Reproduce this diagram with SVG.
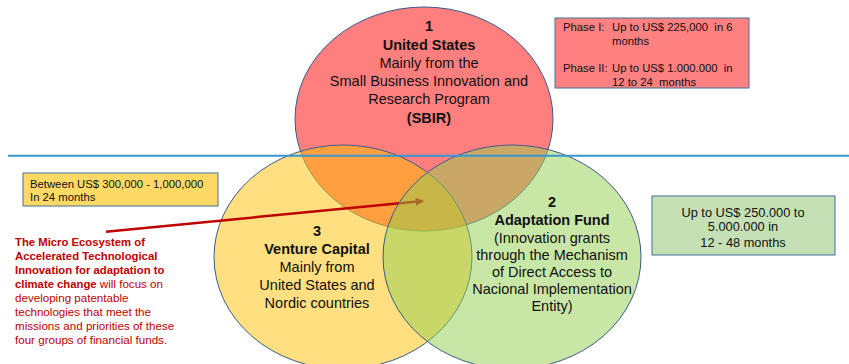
<svg xmlns="http://www.w3.org/2000/svg" width="849" height="364" viewBox="0 0 849 364">
<style>
.ell{stroke:#3a5a8c;stroke-width:1}
.t{font-family:"Liberation Sans",Arial,sans-serif;fill:#111;text-anchor:middle}
.c{font-size:14.5px}
.b{font-weight:bold}
.s{font-family:"Liberation Sans",Arial,sans-serif;font-size:11.3px;fill:#111;white-space:pre}
.box{stroke:#41719c;stroke-width:1}
.rt{font-family:"Liberation Sans",Arial,sans-serif;font-size:11.6px;fill:#c00000}
.rb{font-weight:bold;font-size:11.3px}
</style>
<defs>
<marker id="ah" viewBox="0 0 10 10" refX="9" refY="5" markerWidth="3.6" markerHeight="3.2" orient="auto" markerUnits="strokeWidth">
<path d="M0,0 L10,5 L0,10 z" fill="#c00000"/>
</marker>
</defs>
<rect width="849" height="364" fill="#ffffff"/>
<g id="node-us">
<ellipse class="ell" cx="424" cy="119" rx="129" ry="112" fill="#ff0000" fill-opacity="0.5"/>
</g>
<g id="node-vc">
<ellipse class="ell" cx="343" cy="257" rx="129" ry="112" fill="#ffc000" fill-opacity="0.5"/>
</g>
<g id="connectors">
<line x1="106" y1="231.7" x2="423" y2="201" stroke="#c00000" stroke-width="2.5" marker-end="url(#ah)"/>
</g>
<g id="node-af">
<ellipse class="ell" cx="512" cy="257" rx="129" ry="112" fill="#92d050" fill-opacity="0.5"/>
</g>
<g id="divider">
<line x1="8" y1="155.7" x2="849" y2="155.7" stroke="#3596d3" stroke-width="2"/>
</g>
<g id="label-us">
<text class="t c b" x="429" y="31">1</text>
<text class="t c b" x="429" y="50">United States</text>
<text class="t c" x="429" y="68">Mainly from the</text>
<text class="t c" x="429" y="86">Small Business Innovation and</text>
<text class="t c" x="429" y="104">Research Program</text>
<text class="t c b" x="429" y="123">(SBIR)</text>
</g>
<g id="label-vc">
<text class="t c b" x="317" y="236">3</text>
<text class="t c b" x="317" y="254">Venture Capital</text>
<text class="t c" x="317" y="272">Mainly from</text>
<text class="t c" x="317" y="290">United States and</text>
<text class="t c" x="317" y="308">Nordic countries</text>
</g>
<g id="label-af">
<text class="t c b" x="552" y="207">2</text>
<text class="t c b" x="552" y="225">Adaptation Fund</text>
<text class="t c" x="552" y="243">(Innovation grants</text>
<text class="t c" x="552" y="260">through the Mechanism</text>
<text class="t c" x="552" y="277">of Direct Access to</text>
<text class="t c" x="552" y="294">Nacional Implementation</text>
<text class="t c" x="552" y="311">Entity)</text>
</g>
<g id="box-phase">
<rect class="box" x="555" y="18" width="194" height="70" fill="#ff8080"/>
<text class="s" x="563" y="31">Phase I:</text>
<text class="s" x="612" y="31" xml:space="preserve">Up to US$ 225,000  in 6</text>
<text class="s" x="612" y="45">months</text>
<text class="s" x="563" y="72">Phase II:</text>
<text class="s" x="612" y="72" xml:space="preserve">Up to US$ 1.000.000  in</text>
<text class="s" x="612" y="86" xml:space="preserve">12 to 24  months</text>
</g>
<g id="box-vc">
<rect class="box" x="23" y="173" width="195" height="33" fill="#ffd966"/>
<text class="s" x="30" y="188">Between US$ 300,000 - 1,000,000</text>
<text class="s" x="30" y="201">In 24 months</text>
</g>
<g id="box-af">
<rect class="box" x="652" y="196" width="183" height="59" fill="#c5e0b4"/>
<text class="t" style="font-size:12.8px" x="743" y="216.5">Up to US$ 250.000 to</text>
<text class="t" style="font-size:12.8px" x="743" y="231">5.000.000 in</text>
<text class="t" style="font-size:12.8px" x="743" y="246.5">12 - 48 months</text>
</g>
<g id="note">
<text class="rt rb" x="15" y="246">The Micro Ecosystem of</text>
<text class="rt rb" x="15" y="260">Accelerated Technological</text>
<text class="rt rb" x="15" y="274">Innovation for adaptation to</text>
<text class="rt" x="15" y="288"><tspan class="rb">climate change</tspan> will focus on</text>
<text class="rt" x="15" y="302">developing patentable</text>
<text class="rt" x="15" y="316">technologies that meet the</text>
<text class="rt" x="15" y="330">missions and priorities of these</text>
<text class="rt" x="15" y="344">four groups of financial funds.</text>
</g>
</svg>
